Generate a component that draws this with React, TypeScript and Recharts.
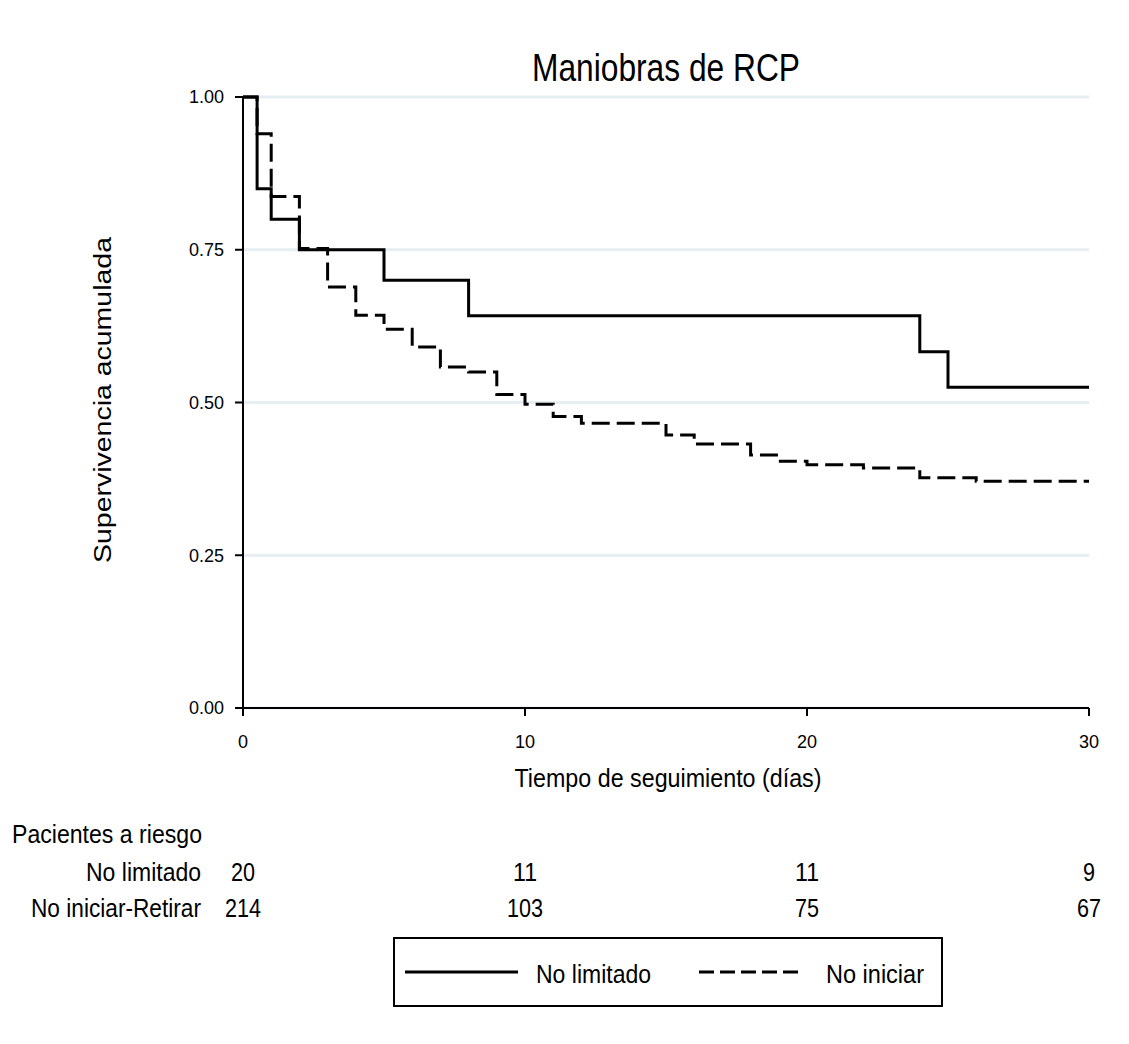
import React from 'react'
import { LineChart, Line, XAxis, YAxis, CartesianGrid } from 'recharts'

// Kaplan-Meier steps
const noLimitadoTime = [0, 0.5, 1, 2, 5, 8, 24, 25, 30]
const noLimitadoSurv = [1, 0.85, 0.8, 0.75, 0.7, 0.642, 0.583, 0.525, 0.525]

const noIniciarTime = [0, 0.5, 1, 2, 3, 4, 5, 6, 7, 8, 9, 10, 11, 12, 15, 16, 18, 19, 20, 22, 24, 26, 30]
const noIniciarSurv = [1, 0.94, 0.837, 0.752, 0.689, 0.643, 0.62, 0.591, 0.558, 0.55, 0.513, 0.497, 0.477, 0.466, 0.447, 0.432, 0.414, 0.404, 0.398, 0.393, 0.377, 0.371, 0.371]

const xTicks = [0, 10, 20, 30]
const yTicks = [0, 0.25, 0.5, 0.75, 1]

// pacientes a riesgo at each x tick
const riskNoLimitado = [20, 11, 11, 9]
const riskNoIniciar = [214, 103, 75, 67]

const noLimitadoData = noLimitadoTime.map((t, i) => ({ t, s: noLimitadoSurv[i] }))
const noIniciarData = noIniciarTime.map((t, i) => ({ t, s: noIniciarSurv[i] }))

const FONT = '"Liberation Sans", Arial, sans-serif'
const W = 1129
const H = 1044

// x tick label plus the at-risk numbers underneath, same x from the axis scale
const TimeTick = (props: any) => {
  const { x, y, payload } = props
  const idx = xTicks.indexOf(payload.value)
  const a = String(riskNoLimitado[idx])
  const b = String(riskNoIniciar[idx])
  return (
    <g fontFamily={FONT} fill="#000">
      <text x={x} y={y} dy="0.71em" textAnchor="middle" fontSize={18}>{payload.value}</text>
      <text x={x} y={881} textAnchor="middle" fontSize={25} textLength={a.length * 12} lengthAdjust="spacingAndGlyphs">{a}</text>
      <text x={x} y={917} textAnchor="middle" fontSize={25} textLength={b.length * 12} lengthAdjust="spacingAndGlyphs">{b}</text>
    </g>
  )
}

export default function App() {
  return (
    <div style={{ position: 'absolute', left: 0, top: 0, width: W, height: H, background: '#fff' }}>
      <LineChart width={W} height={H} margin={{ top: 97, right: 40, bottom: 306, left: 0 }}>
        <CartesianGrid horizontal vertical={false} stroke="#e6eef1" strokeWidth={3} />
        <XAxis
          dataKey="t"
          type="number"
          domain={[0, 30]}
          ticks={xTicks}
          height={30}
          axisLine={{ stroke: '#000', strokeWidth: 2 }}
          tickLine={{ stroke: '#000', strokeWidth: 2 }}
          tickSize={8}
          tickMargin={19}
          tick={<TimeTick />}
          allowDuplicatedCategory={false}
        />
        <YAxis
          type="number"
          domain={[0, 1]}
          ticks={yTicks}
          width={243}
          axisLine={{ stroke: '#000', strokeWidth: 2 }}
          tickLine={{ stroke: '#000', strokeWidth: 2 }}
          tickSize={8}
          tickMargin={11}
          tickFormatter={(v: number) => v.toFixed(2)}
          tick={{ fill: '#000', fontSize: 18, fontFamily: FONT }}
        />
        <Line
          data={noIniciarData}
          dataKey="s"
          type="stepAfter"
          stroke="#000"
          strokeWidth={3}
          strokeDasharray="18 7"
          dot={false}
          isAnimationActive={false}
        />
        <Line
          data={noLimitadoData}
          dataKey="s"
          type="stepAfter"
          stroke="#000"
          strokeWidth={3}
          dot={false}
          isAnimationActive={false}
        />
      </LineChart>

      <svg width={W} height={H} style={{ position: 'absolute', left: 0, top: 0, pointerEvents: 'none' }} fontFamily={FONT} fill="#000">
        <text x={666} y={81} textAnchor="middle" fontSize={39} textLength={268} lengthAdjust="spacingAndGlyphs">Maniobras de RCP</text>
        <text x={668} y={787} textAnchor="middle" fontSize={26.5} textLength={307} lengthAdjust="spacingAndGlyphs">Tiempo de seguimiento (días)</text>
        <text transform="translate(111,400) rotate(-90)" textAnchor="middle" fontSize={23} textLength={326} lengthAdjust="spacingAndGlyphs">Supervivencia acumulada</text>

        <text x={12} y={843} fontSize={26.5} textLength={190} lengthAdjust="spacingAndGlyphs">Pacientes a riesgo</text>
        <text x={201} y={881} textAnchor="end" fontSize={26} textLength={115} lengthAdjust="spacingAndGlyphs">No limitado</text>
        <text x={201} y={917} textAnchor="end" fontSize={26} textLength={170} lengthAdjust="spacingAndGlyphs">No iniciar-Retirar</text>

        <rect x={394} y={938} width={548} height={68} fill="#fff" stroke="#000" strokeWidth={2} />
        <line x1={405} y1={972} x2={518} y2={972} stroke="#000" strokeWidth={3} />
        <text x={536} y={983} fontSize={26.5} textLength={115} lengthAdjust="spacingAndGlyphs">No limitado</text>
        <line x1={699} y1={972} x2={801} y2={972} stroke="#000" strokeWidth={3} strokeDasharray="15 6" />
        <text x={826} y={983} fontSize={26.5} textLength={98} lengthAdjust="spacingAndGlyphs">No iniciar</text>
      </svg>
    </div>
  )
}
